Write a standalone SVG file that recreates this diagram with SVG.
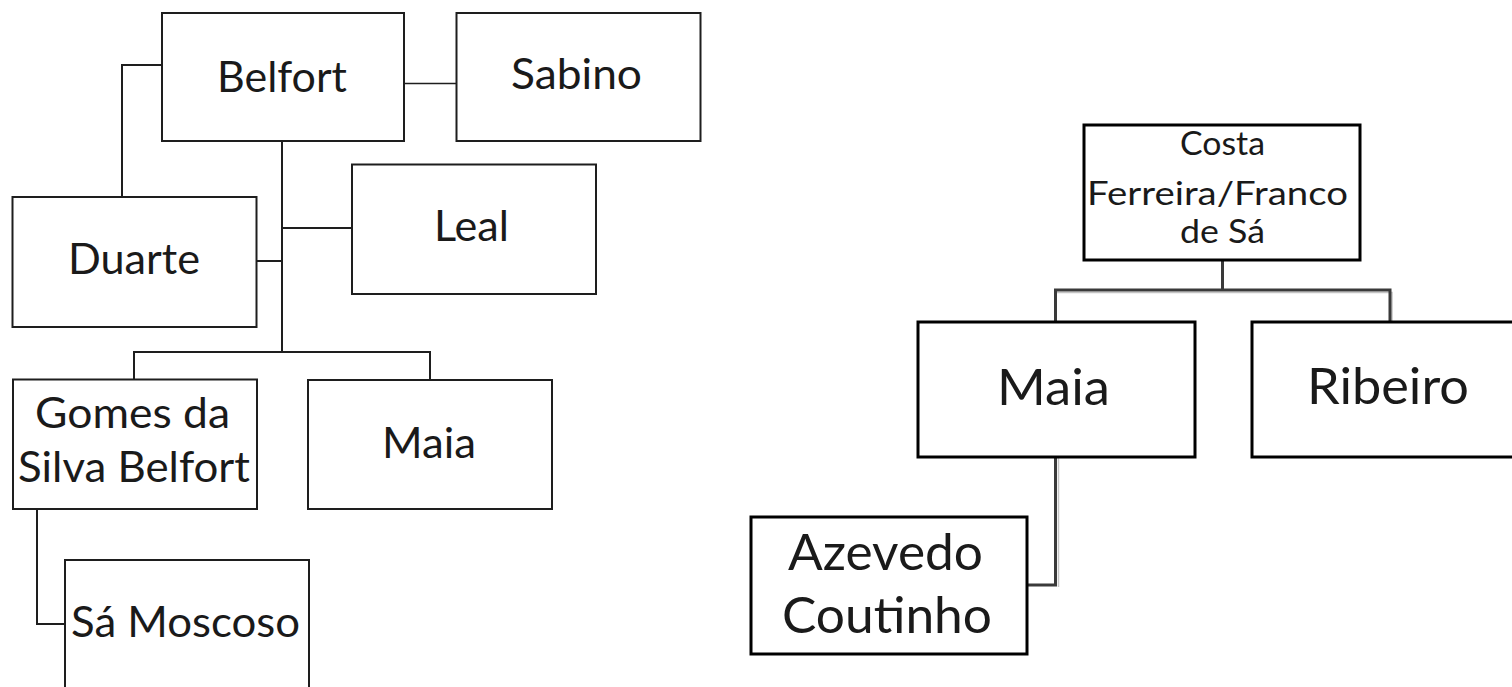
<svg xmlns="http://www.w3.org/2000/svg" width="1512" height="687" viewBox="0 0 1512 687">
<style>
.bl{fill:#fff;stroke:#1e1e1e;stroke-width:2}
.br{fill:#fff;stroke:#000;stroke-width:3}
.t{font-family:Lato,"Liberation Sans",sans-serif;fill:#1a1a1a;text-anchor:middle}
.tl{font-size:43px}
.tb{font-size:51px}
.ts{font-size:32px}
.cl{fill:none;stroke:#1e1e1e;stroke-width:2}
.cr{fill:none;stroke:#3a3a3a;stroke-width:3}
.cg{fill:none;stroke:#c4c4c4;stroke-width:1.5}
</style>
<rect width="1512" height="687" fill="#fff"/>
<g id="connectors">
<path class="cl" d="M399 83.5 H456" style="stroke-width:1.5"/>
<path class="cl" d="M162 65 H122 V197"/>
<path class="cl" d="M282 142 V352"/>
<path class="cl" d="M282 228 H352"/>
<path class="cl" d="M256 261 H282"/>
<path class="cl" d="M134 380 V352 H430 V380"/>
<path class="cl" d="M37 509 V624 H65"/>
<path class="cr" d="M1222.5 260 V290"/>
<path class="cg" d="M1056 292.5 H1392 V322"/>
<path class="cr" d="M1055.5 322 V290 H1390 V322"/>
<path class="cg" d="M1058.5 457 V587"/>
<path class="cr" d="M1055.5 457 V585 H1027"/>
</g>
<g id="belfort"><rect class="bl" x="162" y="13" width="242" height="128"/><text class="t tl" x="282" y="92" textLength="130" lengthAdjust="spacingAndGlyphs">Belfort</text></g>
<g id="sabino"><rect class="bl" x="456.5" y="13" width="244" height="128"/><text class="t tl" x="576.5" y="89" textLength="131" lengthAdjust="spacingAndGlyphs">Sabino</text></g>
<g id="leal"><rect class="bl" x="352" y="164.5" width="244" height="129.5"/><text class="t tl" x="471.5" y="241" textLength="75" lengthAdjust="spacingAndGlyphs">Leal</text></g>
<g id="duarte"><rect class="bl" x="12.5" y="197" width="244" height="130"/><text class="t tl" x="134" y="274" textLength="132" lengthAdjust="spacingAndGlyphs">Duarte</text></g>
<g id="gomes"><rect class="bl" x="13" y="379.5" width="244" height="129.5"/><text class="t tl" x="132.5" y="428" textLength="195" lengthAdjust="spacingAndGlyphs">Gomes da</text><text class="t tl" x="134" y="482" textLength="232" lengthAdjust="spacingAndGlyphs">Silva Belfort</text></g>
<g id="maia-left"><rect class="bl" x="308" y="380" width="244" height="129"/><text class="t tl" x="429" y="458" textLength="94" lengthAdjust="spacingAndGlyphs">Maia</text></g>
<g id="sa-moscoso"><rect class="bl" x="65" y="560" width="244" height="150"/><text class="t tl" x="185.5" y="637" textLength="229" lengthAdjust="spacingAndGlyphs">Sá Moscoso</text></g>
<g id="costa"><rect class="br" x="1084" y="125" width="276" height="135"/><text class="t ts" x="1222.5" y="155" textLength="85" lengthAdjust="spacingAndGlyphs">Costa</text><text class="t ts" x="1217.5" y="205" textLength="261" lengthAdjust="spacingAndGlyphs">Ferreira/Franco</text><text class="t ts" x="1222.5" y="243" textLength="85" lengthAdjust="spacingAndGlyphs">de Sá</text></g>
<g id="maia-right"><rect class="br" x="918" y="322" width="277" height="135"/><text class="t tb" x="1053.5" y="405" textLength="113" lengthAdjust="spacingAndGlyphs">Maia</text></g>
<g id="ribeiro"><rect class="br" x="1252" y="322" width="280" height="135"/><text class="t tb" x="1388" y="404" textLength="162" lengthAdjust="spacingAndGlyphs">Ribeiro</text></g>
<g id="azevedo"><rect class="br" x="751" y="517" width="276" height="137"/><text class="t tb" x="885.5" y="570" textLength="195" lengthAdjust="spacingAndGlyphs">Azevedo</text><text class="t tb" x="887" y="633" textLength="210" lengthAdjust="spacingAndGlyphs">Coutinho</text></g>
</svg>
